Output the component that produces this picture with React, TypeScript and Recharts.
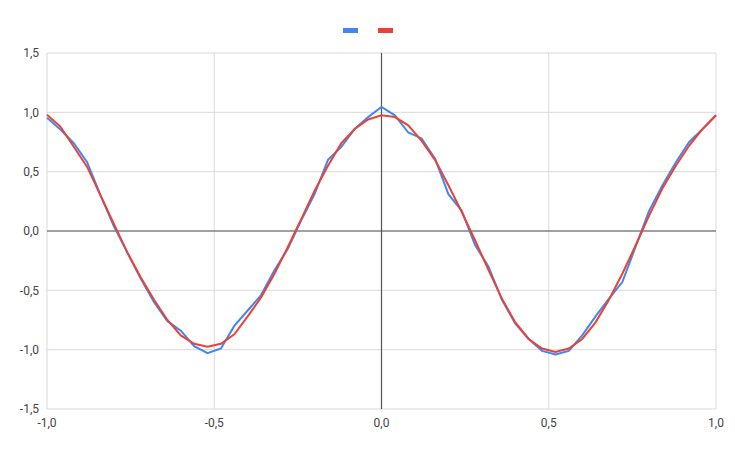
import { LineChart, Line, XAxis, YAxis, CartesianGrid, ReferenceLine, Legend } from "recharts"

const xValues = [
  -1, -0.96, -0.92, -0.88, -0.84, -0.8, -0.76, -0.72, -0.68, -0.64, -0.6, -0.56, -0.52,
  -0.48, -0.44, -0.4, -0.36, -0.32, -0.28, -0.24, -0.2, -0.16, -0.12, -0.08, -0.04, 0,
  0.04, 0.08, 0.12, 0.16, 0.2, 0.24, 0.28, 0.32, 0.36, 0.4, 0.44, 0.48, 0.52,
  0.56, 0.6, 0.64, 0.68, 0.72, 0.76, 0.8, 0.84, 0.88, 0.92, 0.96, 1,
]

// noisy samples (blue)
const sampled = [
  0.955, 0.855, 0.74, 0.58, 0.3, 0.04, -0.18, -0.4, -0.6, -0.76, -0.84, -0.97, -1.03,
  -0.99, -0.8, -0.67, -0.54, -0.33, -0.15, 0.09, 0.31, 0.6, 0.71, 0.86, 0.96, 1.045,
  0.975, 0.83, 0.78, 0.61, 0.31, 0.17, -0.12, -0.3, -0.58, -0.78, -0.91, -1.01, -1.04,
  -1.01, -0.88, -0.72, -0.57, -0.43, -0.13, 0.17, 0.385, 0.58, 0.75, 0.86, 0.975,
]

// fitted curve (red)
const fitted = [
  0.98, 0.88, 0.71, 0.54, 0.3, 0.06, -0.18, -0.39, -0.58, -0.75, -0.88, -0.95, -0.975,
  -0.95, -0.87, -0.72, -0.56, -0.36, -0.135, 0.1, 0.34, 0.55, 0.74, 0.86, 0.94, 0.975,
  0.96, 0.89, 0.76, 0.6, 0.385, 0.16, -0.08, -0.33, -0.57, -0.77, -0.91, -0.99, -1.02,
  -0.99, -0.91, -0.77, -0.58, -0.36, -0.12, 0.13, 0.36, 0.55, 0.72, 0.86, 0.975,
]

const xTicks = [-1, -0.5, 0, 0.5, 1]
const yTicks = [-1.5, -1, -0.5, 0, 0.5, 1, 1.5]

const data = xValues.map((x, i) => ({ x, sampled: sampled[i], fitted: fitted[i] }))

const fmt = (v: number) => v.toFixed(1).replace(".", ",")
const tickStyle = { fontSize: 12, fill: "#444", fontFamily: "Roboto, Arial, sans-serif" }

function LegendSwatches() {
  return (
    <div style={{ display: "flex", justifyContent: "center", gap: 20 }}>
      <span style={{ width: 15, height: 5, background: "#4285F4", display: "block" }} />
      <span style={{ width: 15, height: 5, background: "#EA4335", display: "block" }} />
    </div>
  )
}

export default function App() {
  return (
    <div style={{ position: "absolute", left: 0, top: 0, background: "#fff" }}>
      <LineChart width={735} height={450} data={data} margin={{ top: 53, right: 19, bottom: 16, left: 0 }}>
        <CartesianGrid stroke="#d9d9d9" />
        <XAxis
          type="number"
          dataKey="x"
          domain={[-1, 1]}
          ticks={xTicks}
          tickFormatter={fmt}
          axisLine={false}
          tickLine={false}
          tick={tickStyle}
          tickMargin={3}
          height={25}
        />
        <YAxis
          domain={[-1.5, 1.5]}
          ticks={yTicks}
          tickFormatter={fmt}
          axisLine={false}
          tickLine={false}
          tick={tickStyle}
          width={47}
        />
        <ReferenceLine x={0} stroke="#555" strokeWidth={1.2} />
        <ReferenceLine y={0} stroke="#555" strokeWidth={1.2} />
        <Legend
          layout="horizontal"
          verticalAlign="middle"
          align="center"
          content={<LegendSwatches />}
          wrapperStyle={{ top: 28, left: 0, width: 735 }}
        />
        <Line
          type="linear"
          dataKey="sampled"
          stroke="#4285F4"
          strokeWidth={2}
          dot={false}
          isAnimationActive={false}
        />
        <Line
          type="linear"
          dataKey="fitted"
          stroke="#EA4335"
          strokeWidth={2}
          dot={false}
          isAnimationActive={false}
        />
      </LineChart>
    </div>
  )
}
